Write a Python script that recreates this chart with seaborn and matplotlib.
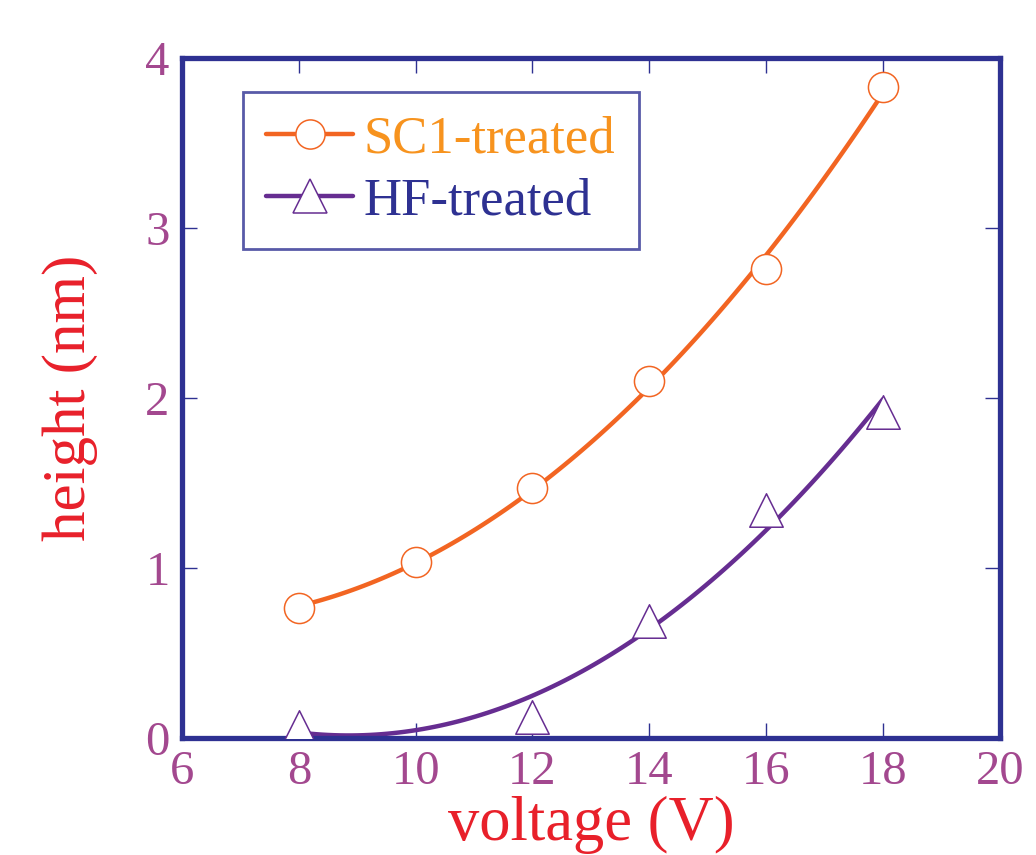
import matplotlib
matplotlib.use("Agg")
import matplotlib.pyplot as plt
from matplotlib.lines import Line2D
import seaborn as sns
import pandas as pd

# datos
voltaje_sc1 = [8, 10, 12, 14, 16, 18]
altura_sc1 = [0.765, 1.035, 1.47, 2.10, 2.76, 3.83]
voltaje_hf = [8, 12, 14, 16, 18]
altura_hf = [0.065, 0.12, 0.69, 1.34, 1.92]
etiquetas = ["SC1-treated", "HF-treated"]
ticks_x = [6, 8, 10, 12, 14, 16, 18, 20]
ticks_y = [0, 1, 2, 3, 4]

AZUL = "#2e3192"
MORADO = "#662d91"
NARANJA = "#f26522"
NARANJA_TXT = "#f7931e"
ROSA = "#a3488f"
ROJO = "#e8202a"

sns.set_theme(style="white")
plt.rcParams["font.family"] = ["Liberation Serif", "DejaVu Serif"]

df_sc1 = pd.DataFrame({"v": voltaje_sc1, "h": altura_sc1})
df_hf = pd.DataFrame({"v": voltaje_hf, "h": altura_hf})

fig = plt.figure(figsize=(10.36, 8.55), dpi=100)
ax = fig.add_axes([0.1757, 0.137, 0.7893, 0.795])

# curvas ajustadas (polinomio de grado 2)
sns.regplot(data=df_sc1, x="v", y="h", order=2, ci=None, scatter=False, truncate=True,
            ax=ax, line_kws={"color": NARANJA, "linewidth": 3.2, "zorder": 2})
sns.regplot(data=df_hf, x="v", y="h", order=2, ci=None, scatter=False, truncate=True,
            ax=ax, line_kws={"color": MORADO, "linewidth": 3.2, "zorder": 2})

# marcadores
sns.scatterplot(data=df_sc1, x="v", y="h", marker="o", s=470, color="white",
                edgecolor=NARANJA, linewidth=1.1, ax=ax, zorder=3)
sns.scatterplot(data=df_hf, x="v", y="h", marker="^", s=580, color="white",
                edgecolor=MORADO, linewidth=1.1, ax=ax, zorder=3)

ax.set_xlim(6, 20)
ax.set_ylim(0, 4)
ax.set_xticks(ticks_x)
ax.set_yticks(ticks_y)
ax.tick_params(direction="in", length=11, width=1, color=AZUL, labelcolor=ROSA,
               labelsize=35, top=True, right=True, bottom=True, left=True, pad=9)
for s in ax.spines.values():
    s.set_color(AZUL)
    s.set_linewidth(3.8)
    s.set_visible(True)

ax.set_xlabel("voltage (V)", color=ROJO, fontsize=45, labelpad=1)
ax.set_ylabel("height (nm)", color=ROJO, fontsize=44, labelpad=34)

handles = [
    Line2D([], [], color=NARANJA, linewidth=3.2, marker="o", markersize=21,
           markerfacecolor="white", markeredgecolor=NARANJA, markeredgewidth=1.1),
    Line2D([], [], color=MORADO, linewidth=3.2, marker="^", markersize=24,
           markerfacecolor="white", markeredgecolor=MORADO, markeredgewidth=1.1),
]
leg = ax.legend(handles, etiquetas, loc="upper left", bbox_to_anchor=(0.074, 0.95),
                fontsize=38, frameon=True, fancybox=False, handlelength=1.65,
                handletextpad=0.2, borderpad=0.45, labelspacing=0.25, borderaxespad=0)
leg.get_frame().set_edgecolor(AZUL)
leg.get_frame().set_linewidth(2)
leg.get_texts()[0].set_color(NARANJA_TXT)
leg.get_texts()[1].set_color(AZUL)

fig.savefig("out.png", dpi=100)
